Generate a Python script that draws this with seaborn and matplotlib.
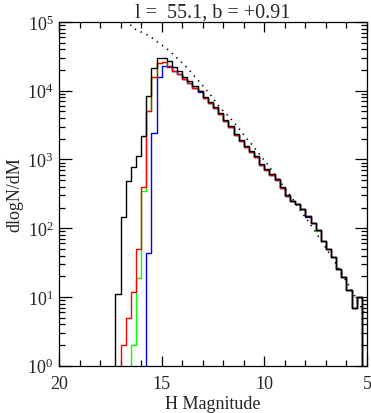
import numpy as np
import pandas as pd
import matplotlib
matplotlib.use("Agg")
import matplotlib.pyplot as plt
from matplotlib.ticker import MultipleLocator, LogLocator, NullFormatter
import seaborn as sns

# --- data: 0.25 mag bins, listed from faint (17.125) to bright (5.125) ---
bin_width = 0.25
first_center = 17.125

black_counts = [11, 144, 490, 770, 1135, 2220, 8470, 21500, 29700, 29700,
                26800, 22400, 19200, 16000, 13700, 11800, 9900, 8200, 6930, 5860,
                4750, 3750, 3100, 2350, 1920, 1590, 1340, 1135, 860, 727,
                615, 520, 394, 305, 247, 222, 189, 150, 118, 95,
                64.5, 49.3, 37.8, 25.5, 19.3, 12.8, 6.8, 9.9, 0]

red_counts = [0, 2, 5, 12, 50, 394, 5120, 15700, 25000, 25900,
              23100, 19500, 17500, 14800, 12800, 11000, 9900, 7900, 6700, 5600,
              4550, 3600, 2980, 2250, 1850, 1530, 1290, 1090, 830, 700,
              595, 500, 380, 292, 247, 222, 189, 150, 118, 95,
              64.5, 49.3, 37.8, 25.5, 19.3, 12.8, 6.8, 9.9, 0]

green_counts = [0, 0, 0, 2, 19, 344, 5120, 15700, 25000, 25900,
                23100, 19500, 17500, 14800, 12800, 11000, 9900, 7900, 6700, 5600,
                4550, 3600, 2980, 2250, 1850, 1530, 1290, 1090, 830, 700,
                595, 500, 380, 292, 247, 222, 189, 150, 118, 91,
                64.5, 49.3, 37.8, 25.5, 19.3, 12.8, 6.8, 9.9, 0]

blue_counts = [0, 0, 0, 0, 0, 0, 43, 2400, 15700, 23100,
               22000, 19300, 17500, 14800, 12800, 11000, 9450, 7900, 6700, 5600,
               4550, 3600, 2980, 2250, 1850, 1530, 1290, 1090, 830, 700,
               595, 500, 380, 292, 247, 222, 189, 145, 118, 95,
               64.5, 49.3, 37.8, 25.5, 19.3, 12.8, 6.8, 9.9, 0]

# model curve (dotted), one value per bin centre from 16.625 to 5.125
model_first = 16.625
model_counts = [99000, 81300, 74100, 69200, 63100, 56200, 49000, 43600, 38000, 32400,
                27500, 23400, 19500, 15800, 13200, 10700, 8710, 6920, 5560, 4680,
                3890, 3160, 2570, 2040, 1680, 1350, 1080, 871, 692, 550,
                431, 339, 266, 209, 162, 127, 100, 76.7, 58.9, 45.2,
                34.7, 26.0, 19.5, 14.5, 10.7, 7.9, 5.9]

title = "l =  55.1, b = +0.91"
xlabel = "H Magnitude"
ylabel = "dlogN/dM"


def centers(start, n):
    return start - bin_width * np.arange(n)


def main():
    sns.set_style("ticks")
    plt.rcParams['font.family'] = ['Liberation Serif', 'DejaVu Serif']
    plt.rcParams['mathtext.fontset'] = 'custom'
    plt.rcParams['mathtext.rm'] = 'Liberation Serif'
    plt.rcParams['mathtext.it'] = 'Liberation Serif:italic'

    fig = plt.figure(figsize=(3.71, 4.14), dpi=100)
    ax = fig.add_axes([59 / 371, 47.3 / 414, 308 / 371, 343.7 / 414])
    ax.set_yscale('log')

    mags = centers(first_center, len(black_counts))
    df = pd.DataFrame({"mag": mags, "black": black_counts, "red": red_counts,
                       "green": green_counts, "blue": blue_counts})
    edges = [5.0 + bin_width * i for i in range(61)]

    # draw order: green, blue, red, black on top
    for col, colour in [("green", "#00ff00"), ("blue", "#0000ff"),
                        ("red", "#ff0000"), ("black", "black")]:
        sns.histplot(x=df["mag"], weights=df[col], bins=edges, element="step",
                     fill=False, color=colour, linewidth=1.0, ax=ax)

    model_df = pd.DataFrame({"mag": centers(model_first, len(model_counts)),
                             "model": model_counts})
    sns.lineplot(data=model_df, x="mag", y="model", color="black",
                 linestyle=(0, (0.8, 3)), linewidth=1.2, ax=ax)

    ax.set_xlim(20, 5)
    ax.set_ylim(1, 1e5)
    ax.xaxis.set_major_locator(MultipleLocator(5))
    ax.xaxis.set_minor_locator(MultipleLocator(1))
    ax.yaxis.set_major_locator(LogLocator(base=10, numticks=10))
    ax.yaxis.set_minor_locator(LogLocator(base=10, subs=np.arange(2, 10), numticks=20))
    ax.yaxis.set_minor_formatter(NullFormatter())

    ax.tick_params(which='both', direction='in', top=True, right=True,
                   labelsize=13, width=0.9, color='black')
    ax.tick_params(axis='x', which='major', length=7, pad=7)
    ax.tick_params(axis='x', which='minor', length=4)
    ax.tick_params(axis='y', which='major', length=9, pad=4)
    ax.tick_params(axis='y', which='minor', length=4)
    for s in ax.spines.values():
        s.set_linewidth(0.9)
        s.set_color('black')

    ax.set_title(title, fontsize=14.5, pad=2.5)
    ax.set_xlabel(xlabel, fontsize=13, labelpad=2)
    ax.set_ylabel(ylabel, fontsize=13, labelpad=3)

    fig.savefig("out.png", dpi=100)


if __name__ == "__main__":
    main()
